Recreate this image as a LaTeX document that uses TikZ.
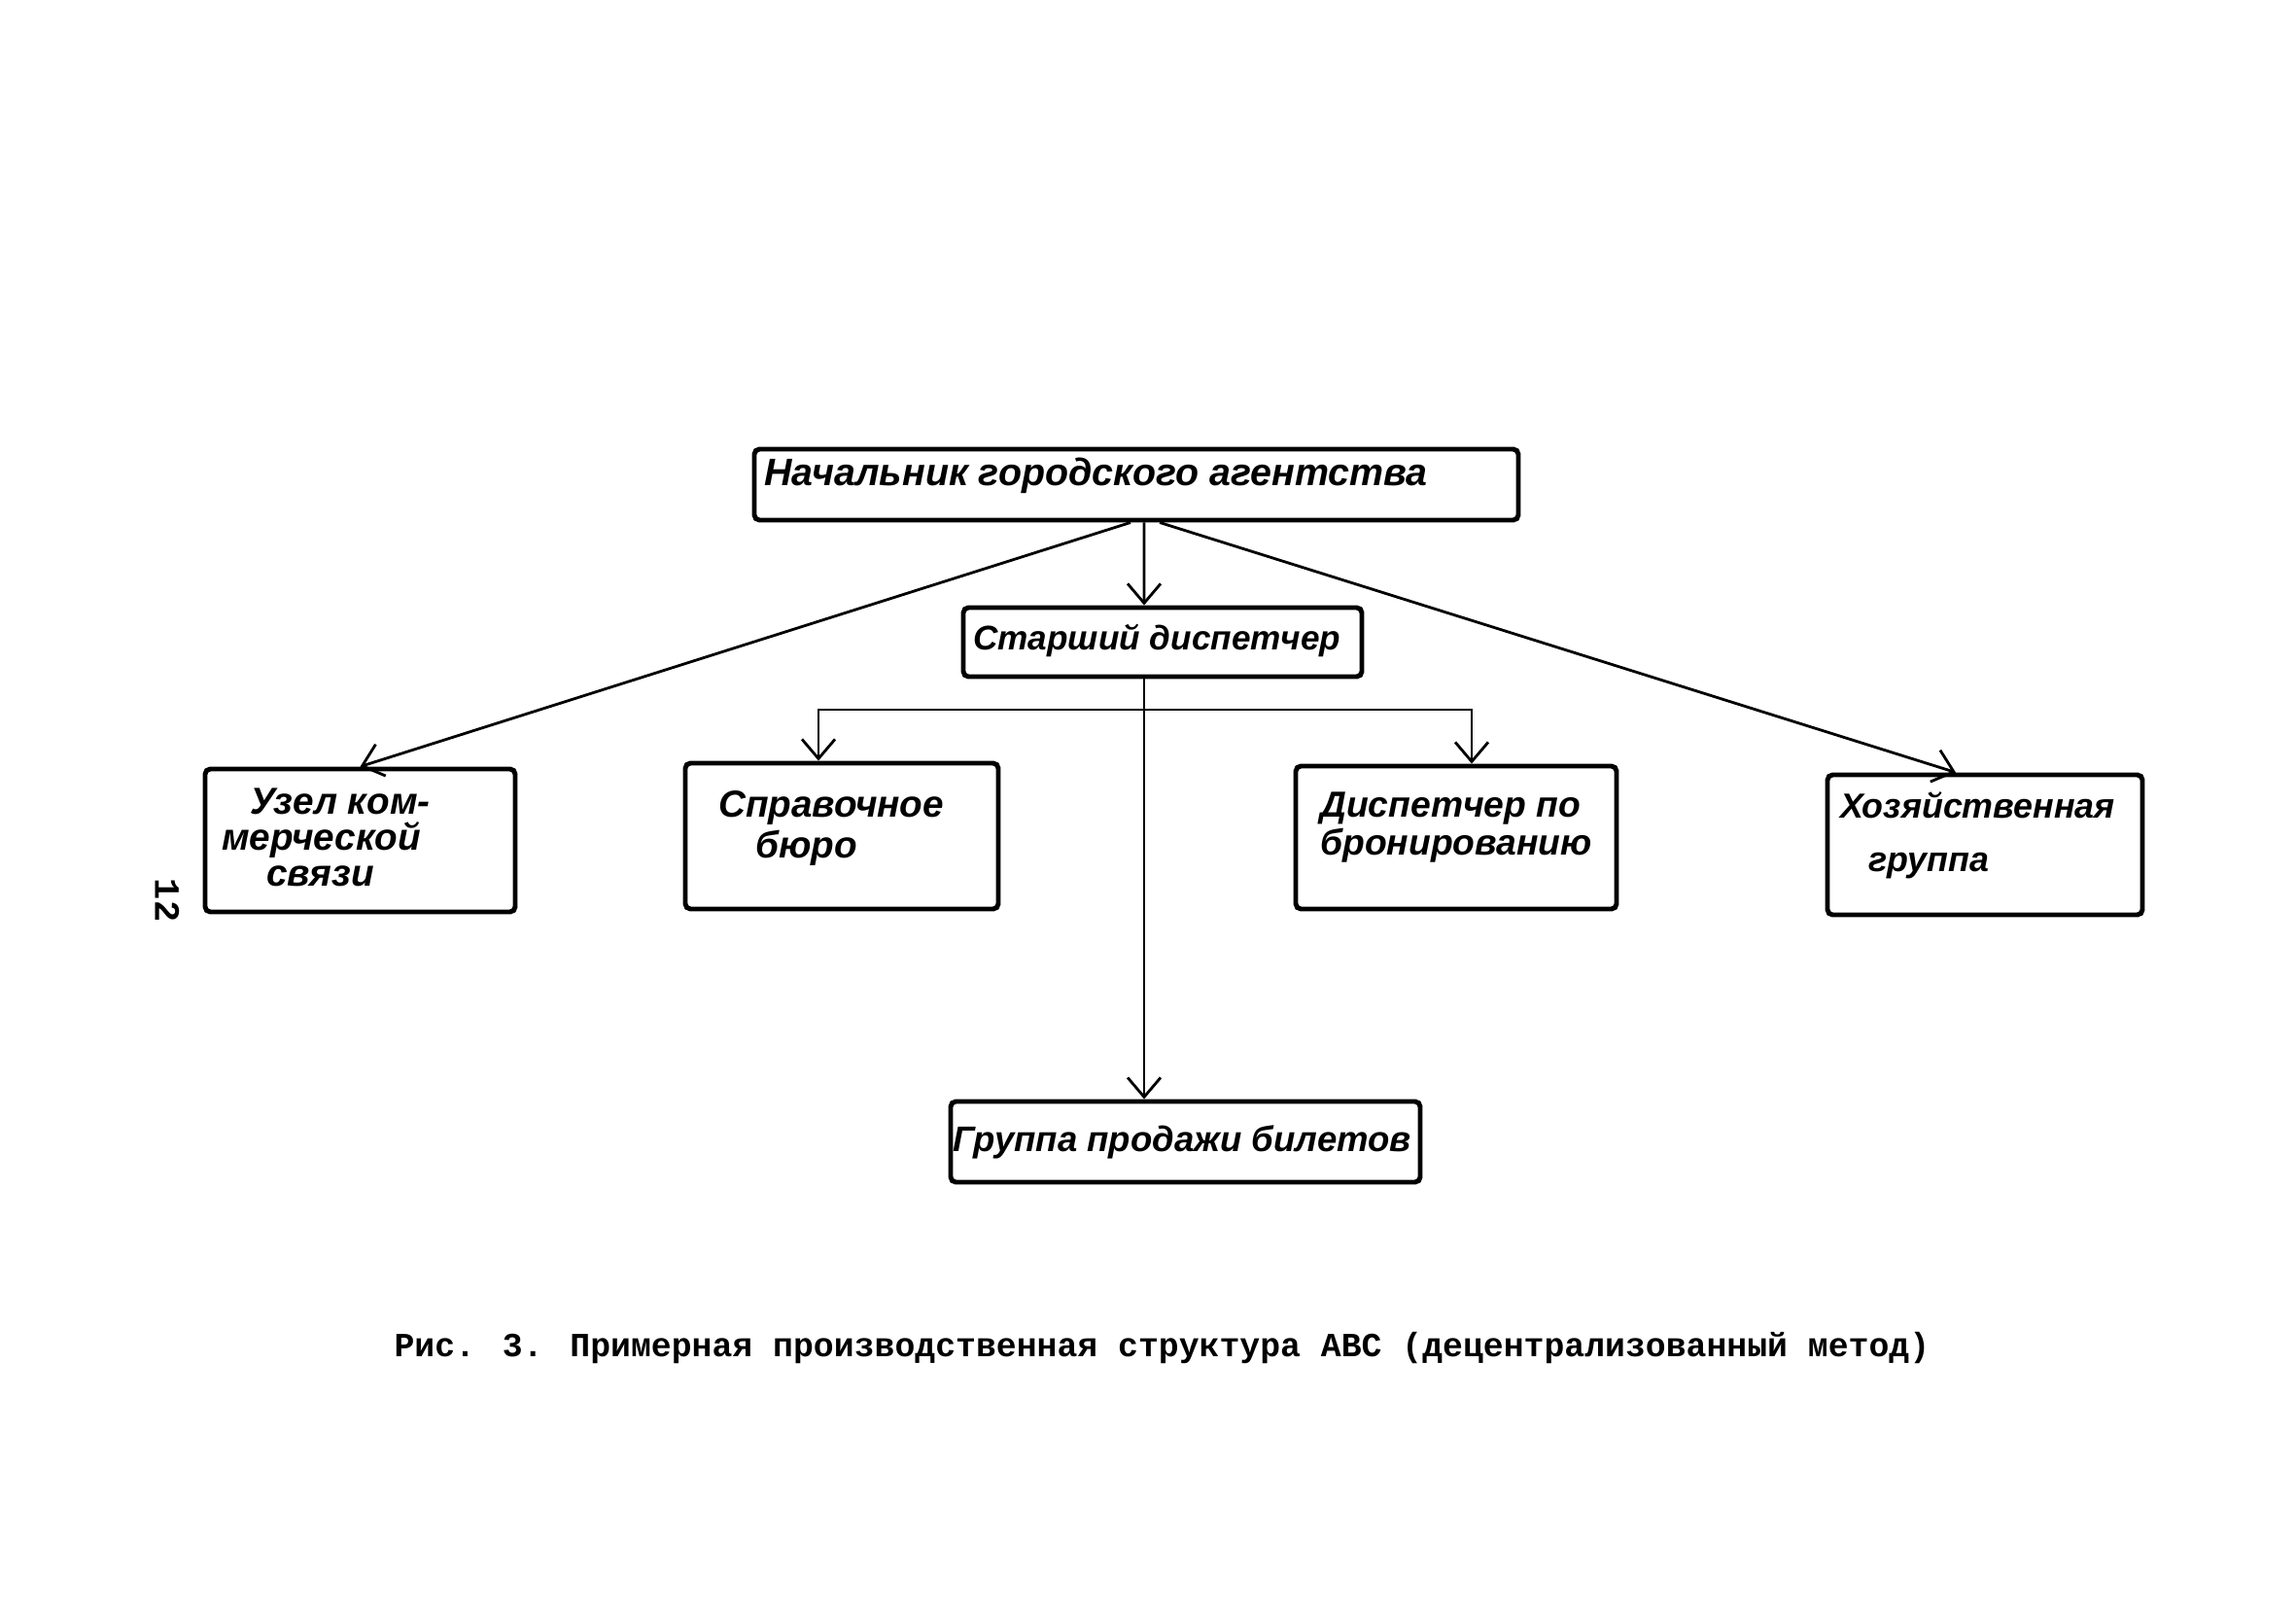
\documentclass[tikz,border=0pt]{standalone}
\usepackage{fontspec}
\setmainfont{Liberation Serif}
\newfontfamily\handfont{Liberation Sans}
\newfontfamily\capfont{Liberation Mono}
\usetikzlibrary{positioning}
\usetikzlibrary{arrows.meta}

\begin{document}
\begin{tikzpicture}[box/.style={draw, line width=1.4pt, rounded corners=1.5pt, inner sep=0pt},
                    txt/.style={anchor=west, inner sep=0pt, align=left, font=\handfont\bfseries\itshape\fontsize{#1}{#1}\selectfont},
                    txt/.default=10.5,
                    >={Straight Barb[length=2mm, width=3.4mm]}]
            \useasboundingbox (0,0) rectangle (23.62,16.53);
            % Bloques
            \node[box, minimum width=7.86cm, minimum height=0.73cm] (chief) at (11.69,11.545) {};
            \node[box, minimum width=4.10cm, minimum height=0.71cm] (senior) at (11.96,9.925) {};
            \node[box, minimum width=3.19cm, minimum height=1.47cm] (comm) at (3.705,7.885) {};
            \node[box, minimum width=3.22cm, minimum height=1.50cm] (info) at (8.66,7.93) {};
            \node[box, minimum width=3.30cm, minimum height=1.47cm] (booking) at (14.98,7.915) {};
            \node[box, minimum width=3.24cm, minimum height=1.44cm] (supply) at (20.42,7.84) {};
            \node[box, minimum width=4.83cm, minimum height=0.83cm] (sales) at (12.195,4.785) {};

            % Textos
            \node[txt=11.2] (chief-t) at ([xshift=0.12cm, yshift=0.09cm]chief.west) {Начальник городского агентства};
            \node[txt=10] (senior-t) at ([xshift=0.12cm, yshift=0.02cm]senior.west) {Старший диспетчер};
            \node[txt=11] (comm-t) at ([xshift=0.19cm, yshift=0.03cm]comm.west) {\hspace*{0.29cm}Узел ком-\\[-0.5pt]мерческой\\[-0.5pt]\hspace*{0.46cm}связи};
            \node[txt=11] (info-t) at ([xshift=0.36cm, yshift=0.08cm]info.west) {Справочное\\[1pt]\hspace*{0.38cm}бюро};
            \node[txt=10.6] (booking-t) at ([xshift=0.27cm, yshift=0.10cm]booking.west) {Диспетчер по\\[0.5pt]бронированию};
            \node[txt=10.2] (supply-t) at ([xshift=0.15cm, yshift=0.10cm]supply.west) {Хозяйственная\\[5.5pt]\hspace*{0.29cm}группа};
            \node[txt=10.4] (sales-t) at ([xshift=0.04cm]sales.west) {Группа продажи билетов};

            \coordinate (fork) at (11.77,9.23);

            % Связи
            \draw[->, thick] ([xshift=0.08cm]chief.south) -- ([xshift=-0.19cm]senior.north);
            \draw[->, thick] ([xshift=-0.06cm]chief.south) -- (comm.north);
            \draw[->, thick] ([xshift=0.24cm]chief.south) -- ([xshift=-0.30cm]supply.north);
            \draw[->, thick] ([xshift=-0.19cm]senior.south) -- ([xshift=-0.425cm]sales.north);
            \draw[->, thick] (fork) -| ([xshift=-0.24cm]info.north);
            \draw[->, thick] (fork) -| ([xshift=0.16cm]booking.north);

            % Подпись
            \node[font=\capfont\bfseries\fontsize{9.9}{12}\selectfont] (caption) at (11.955,2.67) {Рис. 3. Примерная производственная структура АВС (децентрализованный метод)};
            \node[rotate=-90, font=\capfont\bfseries\fontsize{10.5}{10.5}\selectfont] (page) at (1.72,7.27) {12};
          \end{tikzpicture}
\end{document}
